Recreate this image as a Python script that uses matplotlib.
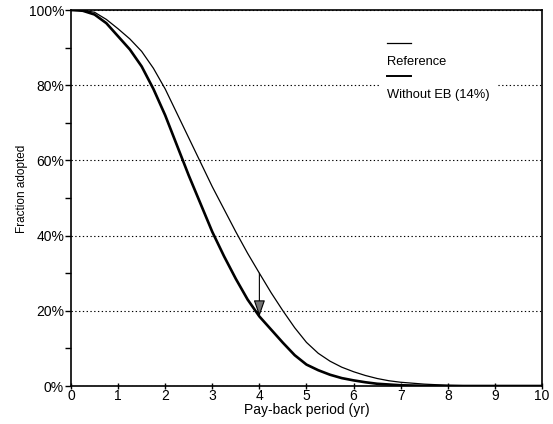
import numpy as np
import matplotlib.pyplot as plt
from matplotlib.patches import Rectangle
from matplotlib.lines import Line2D
from matplotlib.ticker import MultipleLocator, PercentFormatter

plt.rcParams['font.family'] = ['Liberation Sans', 'DejaVu Sans']

# pay-back period (yr)
payback = [0, 0.25, 0.5, 0.75, 1, 1.25, 1.5, 1.75, 2, 2.25, 2.5, 2.75, 3, 3.25, 3.5, 3.75,
           4, 4.25, 4.5, 4.75, 5, 5.25, 5.5, 5.75, 6, 6.25, 6.5, 6.75, 7, 7.5, 8, 8.5, 9, 9.5, 10]
# fraction adopted (%)
reference = [100, 99.9, 99.4, 97.5, 95, 92.3, 89, 84.5, 79, 72.5, 66, 59.5, 53, 47, 41, 35.3,
             30, 24.8, 20, 15.5, 11.6, 8.7, 6.6, 5, 3.8, 2.8, 2, 1.4, 1, 0.5, 0.2, 0.05, 0, 0, 0]
without_eb = [100, 99.8, 98.8, 96.5, 93, 89.5, 85, 79, 72, 64, 56, 48.5, 41, 34.5, 28.5, 23,
              18.5, 15, 11.5, 8.2, 5.7, 4.2, 3, 2.1, 1.5, 1, 0.6, 0.4, 0.2, 0.05, 0, 0, 0, 0, 0]
arrow_year = 4

fig = plt.figure(figsize=(5.53, 4.24), dpi=100)
ax = fig.add_axes([0.1284, 0.0896, 0.8516, 0.8868])

ax.plot(payback, reference, color="black", lw=0.9, zorder=3)
ax.plot(payback, without_eb, color="black", lw=1.9, zorder=3)

# arrow showing the shift at the marked year
i = payback.index(arrow_year)
ax.annotate("", xy=(arrow_year, without_eb[i]), xytext=(arrow_year, reference[i]),
            arrowprops=dict(arrowstyle="-|>,head_length=1.0,head_width=0.35",
                            lw=0.8, fc="0.45", ec="black", shrinkA=0, shrinkB=0),
            zorder=4)

ax.set_xlim(0, 10)
ax.set_ylim(0, 100)
ax.xaxis.set_major_locator(MultipleLocator(1))
ax.yaxis.set_major_locator(MultipleLocator(20))
ax.yaxis.set_minor_locator(MultipleLocator(10))
ax.yaxis.set_major_formatter(PercentFormatter(decimals=0))
ax.tick_params(axis="y", which="both", direction="out", length=4, width=1, labelsize=10, pad=1)
ax.tick_params(axis="x", direction="inout", length=4, width=1, labelsize=10, pad=0)
for s in ax.spines.values():
    s.set_linewidth(1.2)

ax.grid(axis="y", which="major", linestyle=(0, (1.2, 2.2)), color="black", lw=0.8)
ax.set_axisbelow(True)

ax.set_xlabel("Pay-back period (yr)", fontsize=10, labelpad=0)
ax.set_ylabel("Fraction adopted", fontsize=8.5)
ax.yaxis.set_label_coords(-0.092, 0.525)

# legend (line drawn above each label)
ax.add_patch(Rectangle((0.656, 0.747), 0.248, 0.194, transform=ax.transAxes,
                       facecolor="white", edgecolor="none", zorder=2))
ax.add_line(Line2D([0.671, 0.722], [0.912, 0.912], transform=ax.transAxes,
                   color="black", lw=0.9, zorder=3))
ax.text(0.671, 0.862, "Reference", transform=ax.transAxes, fontsize=9.3,
        va="center", ha="left", zorder=3)
ax.add_line(Line2D([0.671, 0.722], [0.824, 0.824], transform=ax.transAxes,
                   color="black", lw=1.4, zorder=3))
ax.text(0.671, 0.774, "Without EB (14%)", transform=ax.transAxes, fontsize=9.3,
        va="center", ha="left", zorder=3)

fig.savefig("out.png", dpi=100)
